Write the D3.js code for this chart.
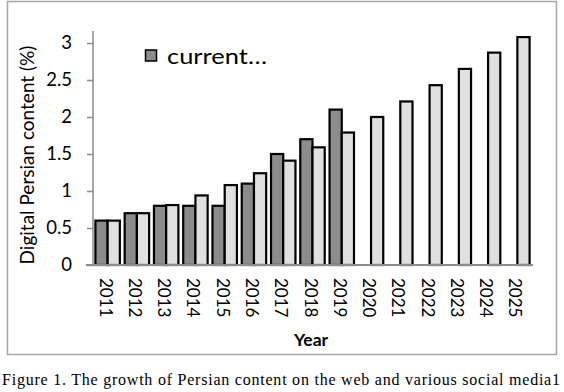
<!DOCTYPE html>
<html>
<head>
<meta charset="utf-8">
<script src="https://d3js.org/d3.v7.min.js"></script>
<style>
  body { margin: 0; background: #fff; }
  svg { display: block; }
</style>
</head>
<body>
<svg id="chart" width="564" height="392"></svg>
<script>
// data
const years = ["2011","2012","2013","2014","2015","2016","2017","2018","2019","2020","2021","2022","2023","2024","2025"];
const current = [0.6, 0.7, 0.8, 0.8, 0.8, 1.1, 1.5, 1.7, 2.1, null, null, null, null, null, null];
const forecast = [0.6, 0.7, 0.81, 0.94, 1.08, 1.24, 1.41, 1.59, 1.79, 2.0, 2.21, 2.43, 2.65, 2.87, 3.08];
const yTicks = [0, 0.5, 1, 1.5, 2, 2.5, 3];
const tickLabels = ["0","0.5","1","1.5","2","2.5","3"];

const font = "Lato, 'Open Sans', sans-serif";
const svg = d3.select('#chart');

// outer frame
svg.append('rect')
    .attr('x', 7.5).attr('y', 1.5)
    .attr('width', 549).attr('height', 353)
    .attr('fill', '#fff')
    .attr('stroke', '#a6a6a6')
    .attr('stroke-width', 1.5);

const m = {left: 93, right: 532, top: 43, bottom: 265};

const x = d3.scaleBand()
    .domain(years)
    .range([m.left, m.right])
    .paddingInner(0.165)
    .paddingOuter(0.0825);

const inner = d3.scaleBand()
    .domain(['current','forecast'])
    .range([0, x.bandwidth()]);

const y = d3.scaleLinear()
    .domain([0, 3])
    .range([m.bottom, m.top]);

// y axis
const yAxis = svg.append('g')
    .attr('transform', `translate(${m.left},0)`)
    .call(d3.axisLeft(y).tickValues(yTicks).tickFormat((d, i) => tickLabels[i]).tickSize(6).tickPadding(15));
yAxis.select('.domain').attr('stroke', '#8c8c8c').attr('stroke-width', 1.5)
    .attr('d', `M0,${m.bottom}V${m.top - 12}`);
yAxis.selectAll('.tick line').attr('stroke', '#8c8c8c').attr('stroke-width', 1.5);
yAxis.selectAll('.tick text')
    .attr('fill', '#000')
    .style('font-family', font)
    .style('font-size', '18.5px');

// bars
const groups = svg.append('g').selectAll('g')
    .data(years)
    .join('g')
    .attr('transform', d => `translate(${x(d)},0)`);

groups.filter((d, i) => current[i] != null)
    .append('rect')
    .attr('x', inner('current'))
    .attr('y', d => y(current[years.indexOf(d)]))
    .attr('width', inner.bandwidth())
    .attr('height', d => y(0) - y(current[years.indexOf(d)]))
    .attr('fill', '#8c8c8c')
    .attr('stroke', '#000')
    .attr('stroke-width', 2.2);

groups.append('rect')
    .attr('x', inner('forecast'))
    .attr('y', d => y(forecast[years.indexOf(d)]))
    .attr('width', inner.bandwidth())
    .attr('height', d => y(0) - y(forecast[years.indexOf(d)]))
    .attr('fill', '#e0e0e0')
    .attr('stroke', '#000')
    .attr('stroke-width', 2.2);

// x axis baseline + rotated labels
const xAxis = svg.append('g')
    .attr('transform', `translate(0,${m.bottom})`)
    .call(d3.axisBottom(x).tickSize(0).tickPadding(0));
xAxis.select('.domain').attr('stroke', '#8c8c8c').attr('stroke-width', 2)
    .attr('d', `M86,0H${m.right + 1}`);
xAxis.selectAll('.tick text')
    .attr('fill', '#000')
    .attr('transform', 'translate(-2,13) rotate(90)')
    .attr('x', 0).attr('y', 0)
    .attr('dy', '0.35em')
    .attr('text-anchor', 'start')
    .style('font-family', font)
    .style('font-size', '17px');

// axis titles
svg.append('text')
    .attr('transform', `translate(34,${(m.top + m.bottom) / 2 + 1}) rotate(-90)`)
    .attr('text-anchor', 'middle')
    .style('font-family', font)
    .style('font-size', '19px')
    .text('Digital Persian content (%)');

svg.append('text')
    .attr('x', 311).attr('y', 346)
    .attr('text-anchor', 'middle')
    .style('font-family', font)
    .style('font-size', '17.5px')
    .style('font-weight', 'bold')
    .text('Year');

// legend
svg.append('rect')
    .attr('x', 145.5).attr('y', 50)
    .attr('width', 11).attr('height', 11)
    .attr('fill', '#8c8c8c')
    .attr('stroke', '#000')
    .attr('stroke-width', 1.5);
svg.append('text')
    .attr('x', 167).attr('y', 64)
    .attr('textLength', 100)
    .attr('lengthAdjust', 'spacingAndGlyphs')
    .style('font-family', font)
    .style('font-size', '22px')
    .text('current…');

// caption
svg.append('text')
    .attr('x', 2).attr('y', 385)
    .attr('textLength', 558)
    .attr('lengthAdjust', 'spacing')
    .style('font-family', "'Liberation Serif', 'Times New Roman', serif")
    .style('font-size', '16px')
    .text('Figure 1. The growth of Persian content on the web and various social media1');
</script>
</body>
</html>
